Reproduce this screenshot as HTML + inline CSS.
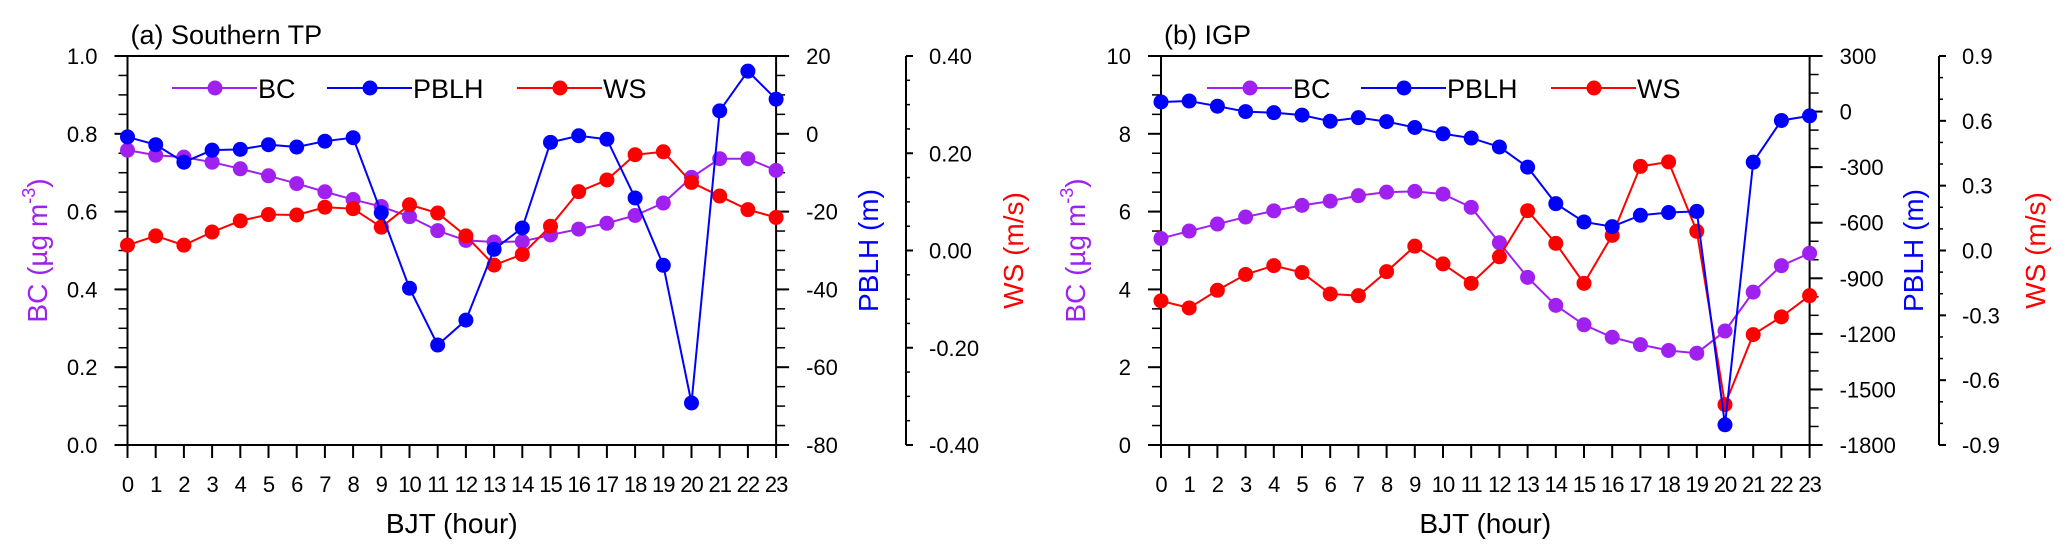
<!DOCTYPE html>
<html><head><meta charset="utf-8">
<style>
html,body{margin:0;padding:0;background:#fff;}
svg{display:block;font-family:"Liberation Sans",Arial,sans-serif;}
</style></head>
<body>
<svg id="chart" width="2067" height="557" viewBox="0 0 2067 557"></svg>
<script>
const hours = [0,1,2,3,4,5,6,7,8,9,10,11,12,13,14,15,16,17,18,19,20,21,22,23];
const bcA = [0.758,0.745,0.74,0.727,0.71,0.692,0.672,0.651,0.631,0.613,0.587,0.551,0.526,0.522,0.523,0.54,0.555,0.57,0.59,0.622,0.688,0.736,0.736,0.706];
const pblhA = [-0.8,-2.8,-7.3,-4.2,-4.0,-2.8,-3.4,-1.9,-1.0,-20.3,-39.7,-54.3,-47.9,-29.7,-24.2,-2.2,-0.5,-1.4,-16.5,-33.8,-69.2,5.9,16.1,8.9];
const wsA = [0.011,0.030,0.011,0.038,0.061,0.074,0.073,0.089,0.086,0.048,0.094,0.077,0.030,-0.030,-0.008,0.050,0.121,0.145,0.197,0.203,0.140,0.112,0.084,0.068];
const bcB = [5.31,5.50,5.68,5.86,6.02,6.16,6.27,6.41,6.50,6.52,6.45,6.11,5.20,4.31,3.59,3.09,2.77,2.58,2.43,2.36,2.93,3.93,4.61,4.93];
const pblhB = [52,57,29,0,-6,-19,-52,-33,-54,-86,-120,-143,-191,-300,-497,-596,-621,-560,-545,-539,-1691,-273,-48,-23];
const wsB = [-0.233,-0.266,-0.184,-0.111,-0.070,-0.102,-0.201,-0.209,-0.098,0.020,-0.062,-0.152,-0.029,0.184,0.033,-0.152,0.070,0.389,0.410,0.089,-0.713,-0.389,-0.307,-0.209];
const bcTicksA = ["0.0","0.2","0.4","0.6","0.8","1.0"];
const pblhTicksA = ["-80","-60","-40","-20","0","20"];
const wsTicksA = ["-0.40","-0.20","0.00","0.20","0.40"];
const bcTicksB = ["0","2","4","6","8","10"];
const pblhTicksB = ["-1800","-1500","-1200","-900","-600","-300","0","300"];
const wsTicksB = ["-0.9","-0.6","-0.3","0.0","0.3","0.6","0.9"];

const NS="http://www.w3.org/2000/svg";
const svg=document.getElementById('chart');
function mk(tag,attrs,parent){const e=document.createElementNS(NS,tag);for(const k in attrs)e.setAttribute(k,attrs[k]);(parent||svg).appendChild(e);return e;}
const TOP=56,BOT=445,COL={bc:"#a020f0",pblh:"#0000ff",ws:"#ff0000"};

function panel(o){
  const g=mk('g',{});
  
  
  const X0=o.x0,X1=o.x0+23*28.2;
  const xs=h=>X0+h*(X1-X0)/23;
  const ys=(v,mn,mx)=>BOT-(v-mn)/(mx-mn)*(BOT-TOP);
  // frame
  const fr=mk('rect',{x:X0,y:TOP,width:X1-X0,height:BOT-TOP,fill:'none',stroke:'#000','stroke-width':2},g);
  
  // title
  const t=mk('text',{x:X0+3,y:44,'font-size':27},g);t.textContent=o.title;
  
  // left axis
  const la=mk('g',{},g);
  for(let v=o.bc[0];v<=o.bc[1]+1e-9;v+=o.bc[3]){const y=ys(v,o.bc[0],o.bc[1]);mk('line',{x1:X0-9,x2:X0,y1:y,y2:y,stroke:'#000','stroke-width':1.5},la);}
  o.bcT.forEach((s,i)=>{const v=o.bc[0]+i*o.bc[2];const y=ys(v,o.bc[0],o.bc[1]);
    mk('line',{x1:X0-13,x2:X0,y1:y,y2:y,stroke:'#000','stroke-width':2},la);
    const tx=mk('text',{x:X0-30,y:y+8,'font-size':22,'text-anchor':'end'},la);tx.textContent=s;});
  // PBLH axis
  const pa=mk('g',{},g);
  for(let v=o.pb[0];v<=o.pb[1]+1e-9;v+=o.pb[3]){const y=ys(v,o.pb[0],o.pb[1]);mk('line',{x1:X1,x2:X1+9,y1:y,y2:y,stroke:'#000','stroke-width':1.5},pa);}
  o.pbT.forEach((s,i)=>{const v=o.pb[0]+i*o.pb[2];const y=ys(v,o.pb[0],o.pb[1]);
    mk('line',{x1:X1,x2:X1+13,y1:y,y2:y,stroke:'#000','stroke-width':2},pa);
    const tx=mk('text',{x:X1+30,y:y+8,'font-size':22},pa);tx.textContent=s;});
  // WS axis
  const WX=o.wx;
  const wa=mk('g',{},g);
  mk('line',{x1:WX,x2:WX,y1:TOP,y2:BOT,stroke:'#000','stroke-width':2},wa);
  for(let v=o.ws[0];v<=o.ws[1]+1e-9;v+=o.ws[3]){const y=ys(v,o.ws[0],o.ws[1]);mk('line',{x1:WX,x2:WX+4,y1:y,y2:y,stroke:'#000','stroke-width':1.5},wa);}
  o.wsT.forEach((s,i)=>{const v=o.ws[0]+i*o.ws[2];const y=ys(v,o.ws[0],o.ws[1]);
    mk('line',{x1:WX,x2:WX+7,y1:y,y2:y,stroke:'#000','stroke-width':2},wa);
    const tx=mk('text',{x:WX+23,y:y+8,'font-size':22},wa);tx.textContent=s;});
  // x axis
  const xa=mk('g',{},g);
  hours.forEach(h=>{const x=xs(h);mk('line',{x1:x,x2:x,y1:BOT,y2:BOT+13,stroke:'#000','stroke-width':2},xa);
    const tx=mk('text',{x:x,y:492,'font-size':22,'text-anchor':'middle','letter-spacing':'-1'},xa);tx.textContent=String(h);});
  const xt=mk('text',{x:(X0+X1)/2,y:533,'font-size':28,'text-anchor':'middle'},g);xt.textContent='BJT (hour)';
  
  // y titles
  const cy=(TOP+BOT)/2;
  const bt=mk('text',{x:0,y:0,'font-size':28,fill:COL.bc,'text-anchor':'middle',transform:`translate(${o.bcx+10},${cy}) rotate(-90)`},g);
  
  bt.appendChild(document.createTextNode('BC (µg m'));
  const sup=mk('tspan',{'font-size':18,dy:-12},bt);sup.textContent='-3';
  const cl=mk('tspan',{dy:12},bt);cl.textContent=')';
  const pt=mk('text',{x:0,y:0,'font-size':28,fill:COL.pblh,'text-anchor':'middle',transform:`translate(${o.pbx+10},${cy}) rotate(-90)`},g);
  pt.textContent='PBLH (m)';
  const wt=mk('text',{x:0,y:0,'font-size':28,fill:COL.ws,'text-anchor':'middle',transform:`translate(${o.wsx+10},${cy}) rotate(-90)`},g);
  wt.textContent='WS (m/s)';
  // series
  const series=[['bc',o.bcD,o.bc],['ws',o.wsD,o.ws],['pblh',o.pbD,o.pb]];
  series.forEach(([k,d,r])=>{
    const sg=mk('g',{},g);
    const pts=d.map((v,i)=>xs(hours[i])+','+ys(v,r[0],r[1])).join(' ');
    mk('polyline',{points:pts,fill:'none',stroke:COL[k],'stroke-width':2},sg);
    d.forEach((v,i)=>{const c=mk('circle',{cx:xs(hours[i]),cy:ys(v,r[0],r[1]),r:7.5,fill:COL[k]},sg);
      });
  });
  // legend
  const lg=mk('g',{},g);
  [['bc','BC'],['pblh','PBLH'],['ws','WS']].forEach(([k,l],i)=>{
    const lx=o.leg[i];
    const le=mk('g',{},lg);
    mk('line',{x1:lx,x2:lx+85,y1:88,y2:88,stroke:COL[k],'stroke-width':2},le);
    mk('circle',{cx:lx+43,cy:88,r:7.5,fill:COL[k]},le);
    const tx=mk('text',{x:lx+86,y:98,'font-size':27},le);tx.textContent=l;});
}
panel({id:'southern-tp',title:'(a) Southern TP',x0:127.5,wx:906,bcx:37,pbx:868,wsx:1013,
  bc:[0,1,0.2,0.05],pb:[-80,20,20,5],ws:[-0.4,0.4,0.2,0.05],
  bcT:bcTicksA,pbT:pblhTicksA,wsT:wsTicksA,bcD:bcA,pbD:pblhA,wsD:wsA,leg:[172,327,517]});
panel({id:'igp',title:'(b) IGP',x0:1161,wx:1939,bcx:1075,pbx:1913,wsx:2035,
  bc:[0,10,2,0.5],pb:[-1800,300,300,100],ws:[-0.9,0.9,0.3,0.1],
  bcT:bcTicksB,pbT:pblhTicksB,wsT:wsTicksB,bcD:bcB,pbD:pblhB,wsD:wsB,leg:[1207,1361,1551]});
</script>
</body></html>
